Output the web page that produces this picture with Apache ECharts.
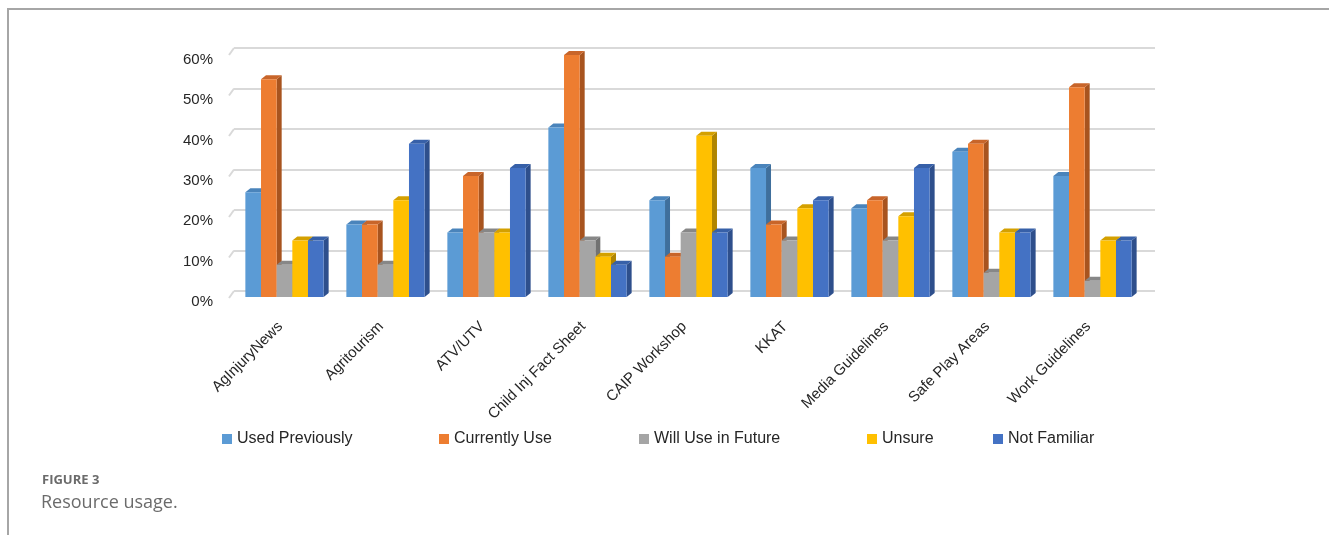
<!DOCTYPE html>
<html>
<head>
<meta charset="utf-8">
<script src="https://cdn.jsdelivr.net/npm/echarts@6/dist/echarts.min.js"></script>
<style>
html,body{margin:0;padding:0;background:#fff;}
#main{width:1329px;height:535px;}
</style>
</head>
<body>
<div id="main"></div>
<script>
// 资源分类
var categories = ['AgInjuryNews', 'Agritourism', 'ATV/UTV', 'Child Inj Fact Sheet', 'CAIP Workshop',
	'KKAT', 'Media Guidelines', 'Safe Play Areas', 'Work Guidelines'];
var seriesNames = ['Used Previously', 'Currently Use', 'Will Use in Future', 'Unsure', 'Not Familiar'];
// 各系列百分比
var usedPreviously = [26, 18, 16, 42, 24, 32, 22, 36, 30];
var currentlyUse = [54, 18, 30, 60, 10, 18, 24, 38, 52];
var willUseInFuture = [8, 8, 16, 14, 16, 14, 14, 6, 4];
var unsure = [14, 24, 16, 10, 40, 22, 20, 16, 14];
var notFamiliar = [14, 38, 32, 8, 16, 24, 32, 16, 14];
var yTicks = [0, 10, 20, 30, 40, 50, 60];

var seriesValues = [usedPreviously, currentlyUse, willUseInFuture, unsure, notFamiliar];
// 正面、顶面、侧面颜色
var frontColors = ['#5b9bd5', '#ed7d31', '#a5a5a5', '#ffc000', '#4472c4'];
var topColors = ['#4a84bb', '#c8652a', '#878787', '#d4a000', '#3760a8'];
var sideColors = ['#3f6f9c', '#a8541f', '#727272', '#b08500', '#2e4f8c'];

var DX = 5, DY = 4;

function make3dBar(idx){
	return function(params, api){
		var cat = api.value(0);
		var val = api.value(1);
		var base = api.coord([cat, 0]);
		var top = api.coord([cat, val]);
		var band = api.size([1, 0])[0];
		var w = band * 0.155;
		var x0 = base[0] - 2.5 * w + idx * w;
		var x1 = x0 + w;
		var yt = top[1], yb = base[1];
		return {
			type: 'group',
			children: [
				{type: 'polygon', shape: {points: [[x1, yt], [x1 + DX, yt - DY], [x1 + DX, yb - DY], [x1, yb]]},
					style: {fill: sideColors[idx]}},
				{type: 'polygon', shape: {points: [[x0, yt], [x0 + DX, yt - DY], [x1 + DX, yt - DY], [x1, yt]]},
					style: {fill: topColors[idx]}},
				{type: 'rect', shape: {x: x0, y: yt, width: w, height: yb - yt},
					style: {fill: frontColors[idx]}}
			]
		};
	};
}

// 左侧墙的斜线
function wallEdge(params, api){
	var p = api.coord([0, api.value(0)]);
	var left = params.coordSys.x;
	return {type: 'line', shape: {x1: left - 5, y1: p[1] + 7, x2: left, y2: p[1]},
		style: {stroke: '#d9d9d9', lineWidth: 2}};
}

var series = [];
series.push({
	type: 'custom', name: 'wall', xAxisIndex: 0, yAxisIndex: 0, silent: true,
	renderItem: wallEdge,
	data: yTicks.map(function(t){ return [t]; })
});
for (var i = 0; i < seriesNames.length; i++) {
	var data = [];
	for (var j = 0; j < categories.length; j++) {
		data.push([j, seriesValues[i][j]]);
	}
	series.push({
		type: 'custom',
		name: seriesNames[i],
		xAxisIndex: 1,
		yAxisIndex: 1,
		itemStyle: {color: frontColors[i]},
		renderItem: make3dBar(i),
		data: data
	});
}

var legendLeft = [217, 434, 634, 862, 988];
var legends = [];
for (var k = 0; k < seriesNames.length; k++) {
	legends.push({
		data: [seriesNames[k]],
		left: legendLeft[k],
		top: 426,
		icon: 'rect',
		itemWidth: 10,
		itemHeight: 10,
		itemGap: 6,
		selectedMode: false,
		textStyle: {fontFamily: 'Liberation Sans', fontSize: 16, color: '#262626'}
	});
}

var option = {
	backgroundColor: '#fff',
	animation: false,
	legend: legends,
	grid: [
		{left: 234, right: 174, top: 48, bottom: 244},
		{left: 234, right: 186, top: 55, bottom: 238}
	],
	xAxis: [
		{gridIndex: 0, type: 'category', data: categories, show: false},
		{gridIndex: 1, type: 'category', data: categories,
			axisLine: {show: false}, axisTick: {show: false},
			axisLabel: {rotate: 45, margin: 23, padding: [0, 6, 0, 0], interval: 0,
				fontFamily: 'Liberation Sans', fontSize: 15, color: '#262626'}}
	],
	yAxis: [
		{gridIndex: 0, type: 'value', min: 0, max: 60, interval: 10,
			axisLabel: {show: false}, axisLine: {show: false}, axisTick: {show: false},
			splitLine: {lineStyle: {color: '#d9d9d9', width: 2}}},
		{gridIndex: 1, type: 'value', min: 0, max: 60, interval: 10,
			splitLine: {show: false}, axisLine: {show: false}, axisTick: {show: false},
			axisLabel: {formatter: '{value}%', margin: 21, verticalAlign: 'top', lineHeight: 10,
				fontFamily: 'Liberation Sans', fontSize: 15, color: '#262626'}}
	],
	graphic: [
		{type: 'line', shape: {x1: 7, y1: 9, x2: 1329, y2: 9}, style: {stroke: '#a6a6a6', lineWidth: 2}},
		{type: 'line', shape: {x1: 8, y1: 9, x2: 8, y2: 535}, style: {stroke: '#a6a6a6', lineWidth: 2}},
		{type: 'text', left: 42, top: 474, style: {text: 'FIGURE 3', fontFamily: 'Open Sans', fontSize: 13,
			fontWeight: 'bold', fill: '#6b6b6b'}},
		{type: 'text', left: 41, top: 494, style: {text: 'Resource usage.', fontFamily: 'Open Sans', fontSize: 18,
			fill: '#6b6b6b'}}
	],
	series: series
};

var myChart = echarts.init(document.getElementById('main'));
myChart.setOption(option);
</script>
</body>
</html>
